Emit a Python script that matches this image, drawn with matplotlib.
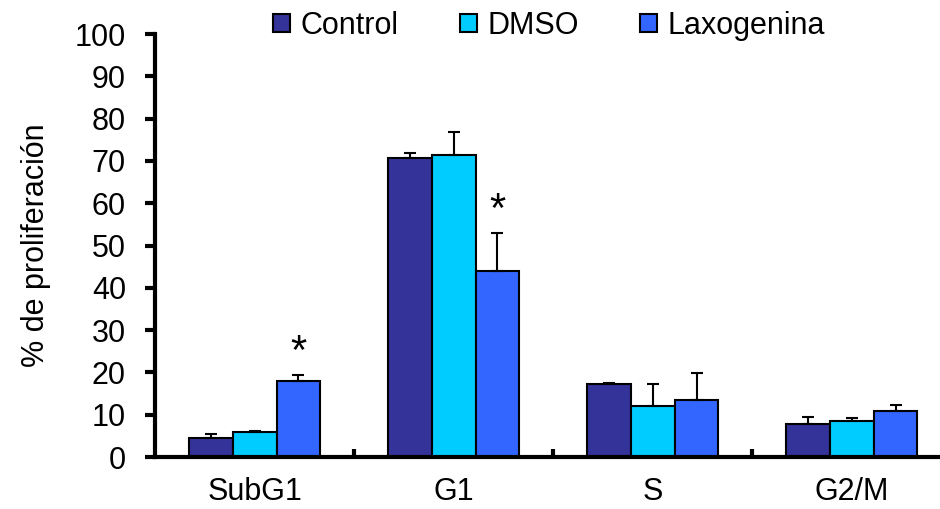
import matplotlib.pyplot as plt
import numpy as np

categories = ["SubG1", "G1", "S", "G2/M"]
seriesNames = ["Control", "DMSO", "Laxogenina"]
controlValues = [4.5, 70.7, 17.3, 7.8]
controlErrors = [0.9, 1.2, 0.3, 1.7]
dmsoValues = [5.9, 71.4, 12.1, 8.5]
dmsoErrors = [0.3, 5.4, 5.2, 0.7]
laxoValues = [18.0, 44.0, 13.5, 10.9]
laxoErrors = [1.4, 9.0, 6.4, 1.4]
starLabels = ["*", "*", "", ""]

colors = ["#333399", "#00CCFF", "#3366FF"]

plt.rcParams['font.family'] = ['Liberation Sans', 'DejaVu Sans']

fig = plt.figure(figsize=(9.4, 5.09), dpi=100)
ax = fig.add_axes([0.165, 0.102, 0.847, 0.831])

x = np.arange(len(categories))
barWidth = 0.22
allValues = [controlValues, dmsoValues, laxoValues]
allErrors = [controlErrors, dmsoErrors, laxoErrors]

for i, (name, vals, errs) in enumerate(zip(seriesNames, allValues, allErrors)):
    offset = (i - 1) * barWidth
    ax.bar(x + offset, vals, barWidth, color=colors[i], edgecolor="black", linewidth=1.5, label=name, zorder=2)
    ax.errorbar(x + offset, vals, yerr=[np.zeros(len(errs)), errs], fmt="none", ecolor="black", elinewidth=1.5, capsize=4.5, capthick=1.5, zorder=3)

# significance marks above Laxogenina bars
for xi, v, e, s in zip(x, laxoValues, laxoErrors, starLabels):
    if s:
        ax.text(xi + barWidth, v + e + 0.5, s, ha="center", va="bottom", fontsize=30)

ax.set_xlim(-0.5, 3.5)
ax.set_ylim(0, 100)
ax.set_yticks(range(0, 101, 10))
ax.tick_params(axis="y", labelsize=22, direction="out", length=7, width=3, pad=14)
ax.set_xticks(x)
ax.set_xticklabels(categories, fontsize=22)
ax.tick_params(axis="x", length=0, pad=14)
ax.set_xticks(x[:-1] + 0.5, minor=True)
ax.tick_params(axis="x", which="minor", direction="in", length=6, width=3)
ax.set_ylabel("% de proliferación", fontsize=22, labelpad=17)

for side in ["top", "right"]:
    ax.spines[side].set_visible(False)
for side in ["left", "bottom"]:
    ax.spines[side].set_linewidth(3)

ax.legend(loc="upper center", bbox_to_anchor=(0.495, 1.12), ncol=3, frameon=False, fontsize=22,
          handlelength=0.55, handleheight=0.55, handletextpad=0.35, columnspacing=2.0)

fig.savefig("out.png", dpi=100)
